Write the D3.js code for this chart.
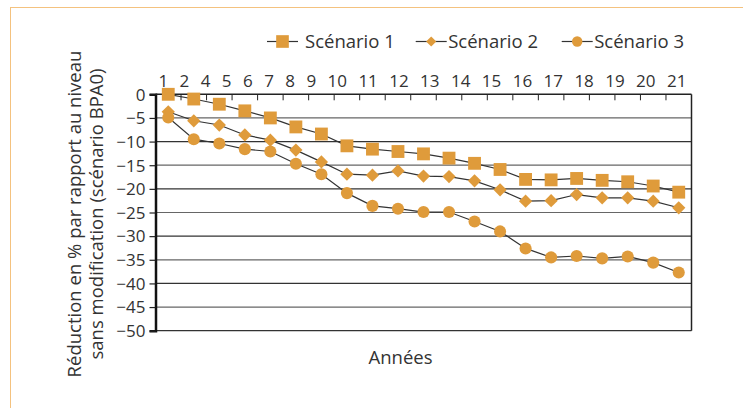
<!DOCTYPE html>
<html>
<head>
<meta charset="utf-8">
<script src="https://cdn.jsdelivr.net/npm/d3@7"></script>
<style>
  html, body { margin: 0; padding: 0; background: #fff; }
  svg text { font-family: "Open Sans", sans-serif; fill: #333; }
</style>
</head>
<body>
<div id="chart"></div>
<script>
"use strict";

// years (one point per year)
var years = [1, 2, 3, 4, 5, 6, 7, 8, 9, 10, 11, 12, 13, 14, 15, 16, 17, 18, 19, 20, 21];
// labels as printed above the chart (the "3" is missing in the original)
var yearLabels = ["1", "2", "4", "5", "6", "7", "8", "9", "10", "11", "12", "13", "14", "15", "16", "17", "18", "19", "20", "21"];
var yTicks = [0, -5, -10, -15, -20, -25, -30, -35, -40, -45, -50];

var scenario1 = [0, -1.0, -2.1, -3.5, -5.0, -6.9, -8.4, -10.9, -11.6, -12.1, -12.6, -13.5, -14.6, -15.9, -18.0, -18.1, -17.8, -18.2, -18.5, -19.4, -20.7];
var scenario2 = [-3.7, -5.6, -6.5, -8.6, -9.7, -11.8, -14.3, -16.9, -17.1, -16.2, -17.3, -17.4, -18.3, -20.2, -22.6, -22.5, -21.2, -21.9, -21.9, -22.6, -24.0];
var scenario3 = [-4.9, -9.5, -10.4, -11.6, -12.1, -14.7, -16.9, -20.9, -23.6, -24.2, -24.9, -24.9, -26.9, -29.0, -32.6, -34.5, -34.2, -34.7, -34.3, -35.6, -37.7];

var seriesNames = ["Scénario 1", "Scénario 2", "Scénario 3"];

(function() {
    var W = 743, H = 408;
    var left = 155.5, right = 691.5, top = 94.3, bottom = 330.7;
    var orange = "#DF9B3B";

    var svg = d3.select("#chart").append("svg")
        .attr("width", W).attr("height", H);

    // outer frame
    svg.append("rect")
        .attr("x", 10.5).attr("y", 7.5)
        .attr("width", W + 20).attr("height", H + 20)
        .attr("fill", "none").attr("stroke", "#F4C27F").attr("stroke-width", 1);

    var x = d3.scaleBand().domain(years).range([left, right]);
    var y = d3.scaleLinear().domain([-50, 0]).range([bottom, top]);
    var cx = function(d) { return x(d) + x.bandwidth() / 2; };

    // gridlines
    svg.append("g").selectAll("line")
        .data(yTicks.filter(function(t) { return t < 0; }))
        .enter().append("line")
        .attr("x1", left).attr("x2", right)
        .attr("y1", function(d) { return y(d); })
        .attr("y2", function(d) { return y(d); })
        .attr("stroke", function(d, i) { return i % 2 ? "#333" : "#666"; })
        .attr("stroke-width", 1.2);

    // right border
    svg.append("line")
        .attr("x1", right).attr("x2", right).attr("y1", top).attr("y2", bottom)
        .attr("stroke", "#222").attr("stroke-width", 1.5);

    // y axis
    var axisY = d3.axisLeft(y).tickValues(yTicks).tickSize(6).tickPadding(4);
    var gy = svg.append("g")
        .attr("transform", "translate(" + left + ",0)")
        .call(axisY);
    gy.select(".domain").attr("stroke", "#111").attr("stroke-width", 2.5);
    gy.selectAll(".tick line").attr("stroke", "#222").attr("stroke-width", 1.2);
    gy.selectAll(".tick text").style("font-size", "17px").attr("fill", "#333")
        .attr("dy", "0.34em");

    // top axis line with tick marks between categories
    svg.append("line")
        .attr("x1", left).attr("x2", right).attr("y1", top).attr("y2", top)
        .attr("stroke", "#222").attr("stroke-width", 1.5);
    svg.append("g").selectAll("line")
        .data(years.slice(1))
        .enter().append("line")
        .attr("x1", function(d) { return x(d); })
        .attr("x2", function(d) { return x(d); })
        .attr("y1", top).attr("y2", top + 6)
        .attr("stroke", "#222").attr("stroke-width", 1);

    // top labels, set as one line of text with even gaps
    var labels = svg.append("g").selectAll("text")
        .data(yearLabels)
        .enter().append("text")
        .attr("y", 87)
        .attr("text-anchor", "middle")
        .style("font-size", "17px")
        .text(function(d) { return d; });
    var widths = [];
    labels.each(function() { widths.push(this.getComputedTextLength()); });
    var firstC = 163.3, lastC = 676.7;
    var inner = 0;
    for (var i = 1; i < widths.length; i++) inner += (widths[i - 1] + widths[i]) / 2;
    var gap = (lastC - firstC - inner) / (widths.length - 1);
    var pos = [firstC];
    for (var j = 1; j < widths.length; j++) {
        pos.push(pos[j - 1] + (widths[j - 1] + widths[j]) / 2 + gap);
    }
    labels.attr("x", function(d, k) { return pos[k]; });

    // lines and markers
    var allSeries = [scenario1, scenario2, scenario3];
    var line = d3.line()
        .x(function(d, i) { return cx(years[i]); })
        .y(function(d) { return y(d); });

    // diamonds are squares turned 45 degrees
    var symbols = [
        d3.symbol().type(d3.symbolSquare).size(165),
        d3.symbol().type(d3.symbolSquare).size(88),
        d3.symbol().type(d3.symbolCircle).size(115)
    ];
    var rot = [0, 45, 0];
    var legendSymbols = [
        d3.symbol().type(d3.symbolSquare).size(160),
        d3.symbol().type(d3.symbolSquare).size(52),
        d3.symbol().type(d3.symbolCircle).size(85)
    ];

    allSeries.forEach(function(s) {
        svg.append("path")
            .datum(s)
            .attr("d", line)
            .attr("fill", "none")
            .attr("stroke", "#333")
            .attr("stroke-width", 1.2);
    });

    allSeries.forEach(function(s, k) {
        svg.append("g").selectAll("path")
            .data(s)
            .enter().append("path")
            .attr("d", symbols[k])
            .attr("transform", function(d, i) {
                return "translate(" + cx(years[i]) + "," + y(d) + ") rotate(" + rot[k] + ")";
            })
            .attr("fill", orange);
    });

    // legend
    var legendX = [267, 415.7, 561.7];
    var legendY = 41.5;
    var leg = svg.append("g").selectAll("g")
        .data(seriesNames)
        .enter().append("g")
        .attr("transform", function(d, i) { return "translate(" + legendX[i] + "," + legendY + ")"; });
    leg.append("line")
        .attr("x1", 0).attr("x2", 31).attr("y1", 0).attr("y2", 0)
        .attr("stroke", "#333").attr("stroke-width", 1.2);
    leg.append("path")
        .attr("d", function(d, i) { return legendSymbols[i](); })
        .attr("transform", function(d, i) { return "translate(15.5,0) rotate(" + rot[i] + ")"; })
        .attr("fill", orange);
    leg.append("text")
        .attr("x", function(d, i) { return i === 0 ? 38 : 32.5; })
        .attr("y", 6.5)
        .style("font-size", "18.5px")
        .text(function(d) { return d; });

    // axis titles
    svg.append("text")
        .attr("x", (left + right) / 2 - 23)
        .attr("y", 364)
        .attr("text-anchor", "middle")
        .style("font-size", "18.5px")
        .text("Années");

    var yt = svg.append("text")
        .attr("transform", "translate(0,214) rotate(-90)")
        .attr("text-anchor", "middle")
        .style("font-size", "18.5px");
    yt.append("tspan").attr("x", 0).attr("y", 81).text("Réduction en % par rapport au niveau");
    yt.append("tspan").attr("x", 0).attr("y", 103).text("sans modification (scénario BPA0)");
})();
</script>
</body>
</html>
